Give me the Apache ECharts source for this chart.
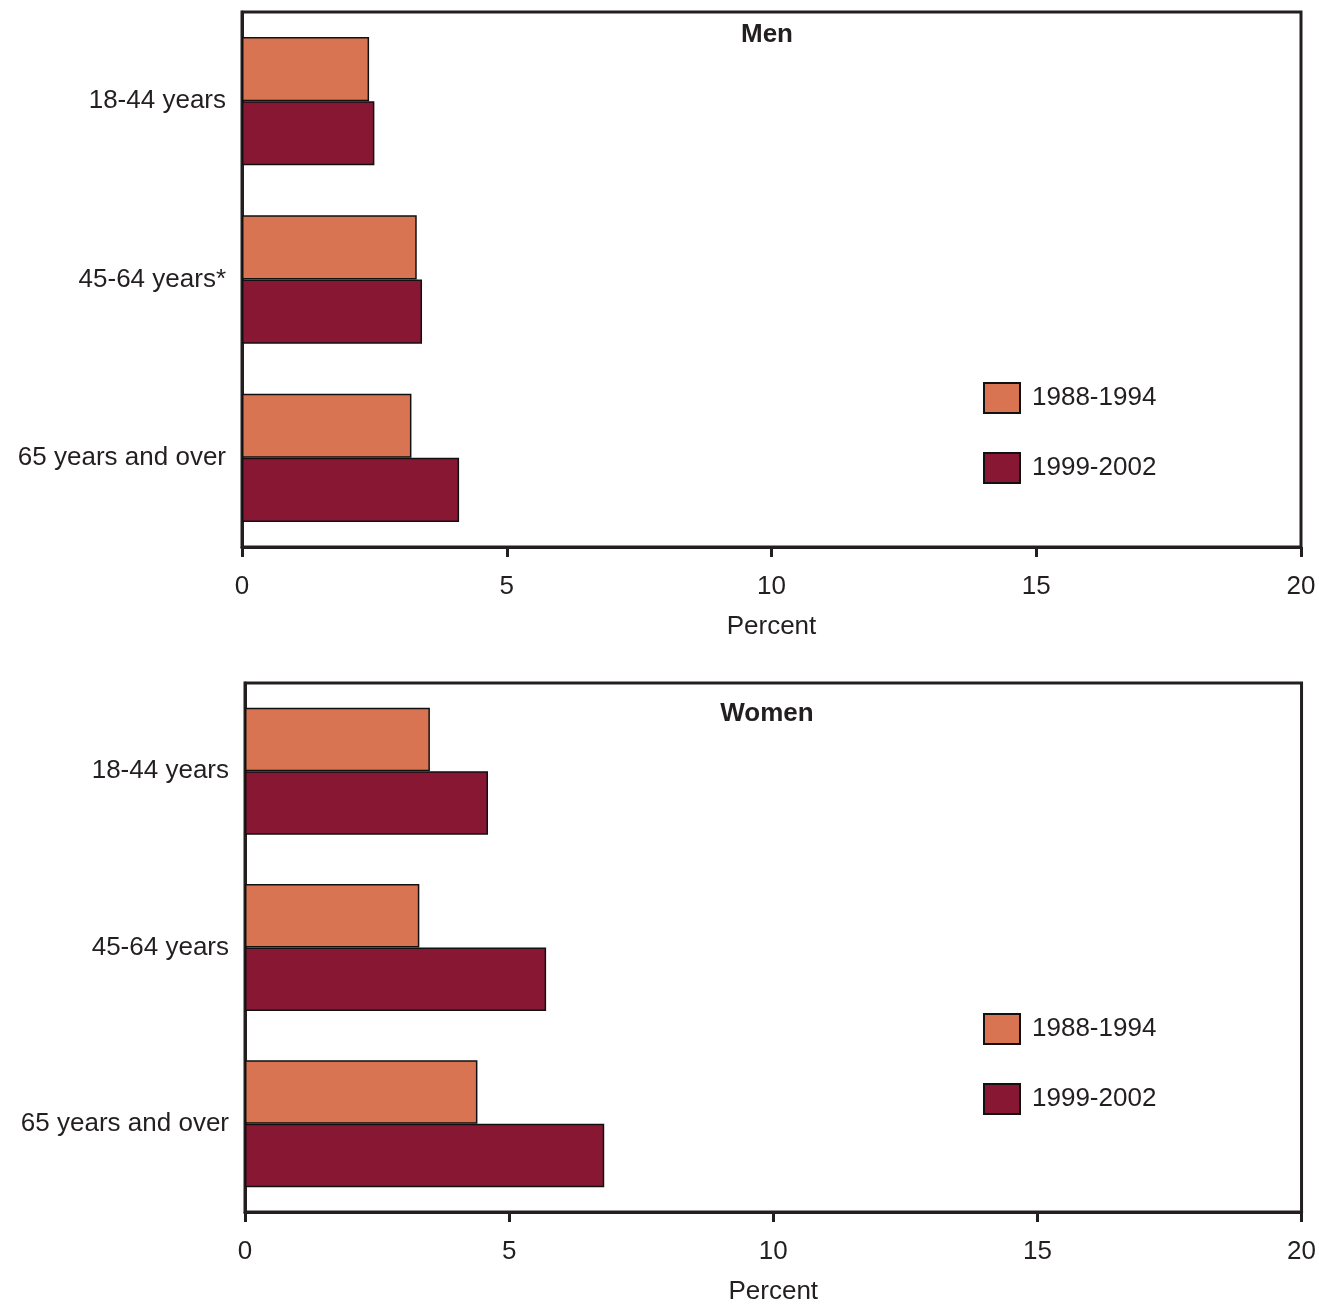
<!DOCTYPE html>
<html>
<head>
<meta charset="utf-8">
<script src="https://cdn.jsdelivr.net/npm/echarts@6/dist/echarts.min.js"></script>
<style>
html,body{margin:0;padding:0;background:#fff;}
#chart{width:1319px;height:1306px;}
</style>
</head>
<body>
<div id="chart"></div>
<script>
const menCategories = ['18-44 years', '45-64 years*', '65 years and over'];
const womenCategories = ['18-44 years', '45-64 years', '65 years and over'];
const seriesNames = ['1988-1994', '1999-2002'];
const men1988 = [2.4, 3.3, 3.2];
const men1999 = [2.5, 3.4, 4.1];
const women1988 = [3.5, 3.3, 4.4];
const women1999 = [4.6, 5.7, 6.8];
const xTicks = { min: 0, max: 20, interval: 5 };
const panelTitles = ['Men', 'Women'];
const xAxisName = 'Percent';

const INK = '#231f20';
const ORANGE = '#d87452';
const MAROON = '#881734';
const FONT = '"Liberation Sans", Arial, sans-serif';
const FS = 26;

const grids = [
  { left: 242, right: 18, top: 12, bottom: 759 },
  { left: 245, right: 16, top: 683, bottom: 88 }
];

function xAxis(gi) {
  return {
    type: 'value', gridIndex: gi, min: xTicks.min, max: xTicks.max, interval: xTicks.interval,
    name: xAxisName, nameLocation: 'middle', nameGap: 67,
    nameTextStyle: { color: INK, fontSize: FS, fontFamily: FONT },
    axisLine: { show: true, lineStyle: { color: INK, width: 3 } },
    axisTick: { show: true, length: 10, lineStyle: { color: INK, width: 3 } },
    axisLabel: { color: INK, fontSize: FS, fontFamily: FONT, margin: 27 },
    splitLine: { show: false }
  };
}
function yAxis(gi, cats) {
  return {
    type: 'category', gridIndex: gi, data: cats, inverse: true,
    axisLine: { show: true, lineStyle: { color: INK, width: 3 } },
    axisTick: { show: false },
    axisLabel: { color: INK, fontSize: FS, fontFamily: FONT, margin: 16 }
  };
}
function bar(name, data, gi, color) {
  return {
    name: name, type: 'bar', xAxisIndex: gi, yAxisIndex: gi, data: data,
    barGap: '0%', barCategoryGap: '28%',
    itemStyle: { color: color, borderColor: '#111', borderWidth: 1.5 },
    emphasis: { disabled: true }, animation: false
  };
}
function legend(top) {
  return {
    data: seriesNames, orient: 'vertical', left: 983, top: top, padding: 0,
    itemWidth: 36, itemHeight: 30, itemGap: 38, icon: 'rect',
    selectedMode: false,
    textStyle: { color: INK, fontSize: FS, fontFamily: FONT, padding: [0, 0, 0, 7] }
  };
}

const option = {
  backgroundColor: '#fff',
  animation: false,
  title: [
    { text: panelTitles[0], left: 767, top: 22, textAlign: 'center', padding: 0,
      textStyle: { color: INK, fontSize: FS, fontWeight: 'bold', fontFamily: FONT } },
    { text: panelTitles[1], left: 767, top: 701, textAlign: 'center', padding: 0,
      textStyle: { color: INK, fontSize: FS, fontWeight: 'bold', fontFamily: FONT } }
  ],
  legend: [legend(382), legend(1013)],
  grid: grids.map(g => Object.assign({ show: true, borderColor: INK, borderWidth: 3, backgroundColor: 'transparent' }, g)),
  xAxis: [xAxis(0), xAxis(1)],
  yAxis: [yAxis(0, menCategories), yAxis(1, womenCategories)],
  series: [
    bar(seriesNames[0], men1988, 0, ORANGE),
    bar(seriesNames[1], men1999, 0, MAROON),
    bar(seriesNames[0], women1988, 1, ORANGE),
    bar(seriesNames[1], women1999, 1, MAROON)
  ]
};
const chart = echarts.init(document.getElementById('chart'), null, { renderer: 'canvas' });
chart.setOption(option);
</script>
</body>
</html>
